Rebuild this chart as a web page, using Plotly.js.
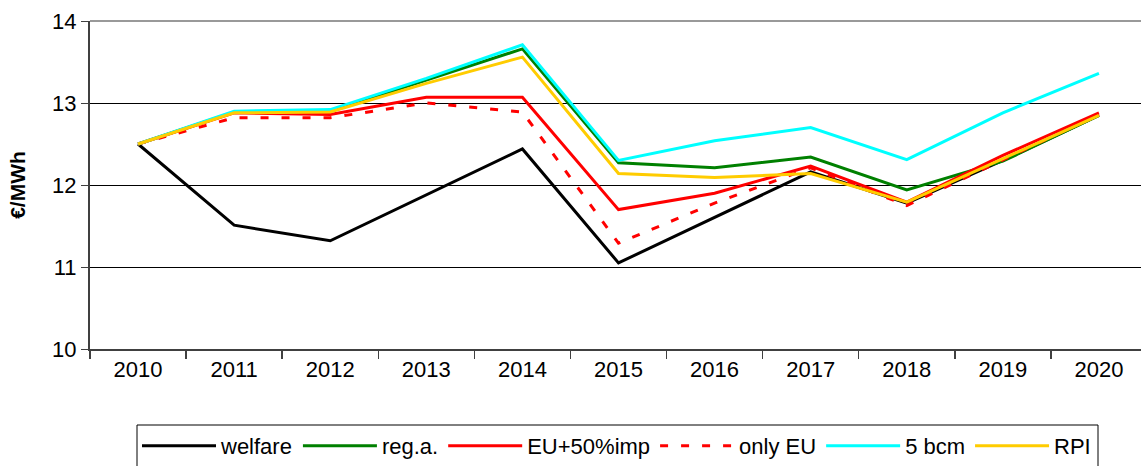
<!DOCTYPE html>
<html><head><meta charset="utf-8">
<script src="https://cdn.plot.ly/plotly-3.0.1.min.js"></script>
<style>html,body{margin:0;padding:0;overflow:hidden;background:#fff}</style>
</head><body><div id="chart"></div>
<script>
const years = ['2010','2011','2012','2013','2014','2015','2016','2017','2018','2019','2020'];
const welfare = [12.5, 11.51, 11.32, 11.88, 12.44, 11.05, 11.6, 12.16, 11.78, 12.3, 12.85];
const regA    = [12.5, 12.89, 12.9, 13.28, 13.66, 12.27, 12.21, 12.34, 11.94, 12.29, 12.85];
const eu50imp = [12.5, 12.88, 12.86, 13.07, 13.07, 11.7, 11.9, 12.23, 11.79, 12.36, 12.88];
const onlyEU  = [12.5, 12.82, 12.82, 13.0, 12.89, 11.29, 11.78, 12.21, 11.75, 12.3, 12.86];
const bcm5    = [12.5, 12.9, 12.92, 13.3, 13.71, 12.3, 12.54, 12.7, 12.31, 12.88, 13.36];
const rpi     = [12.5, 12.88, 12.89, 13.24, 13.56, 12.14, 12.09, 12.14, 11.79, 12.32, 12.85];

const series = [
  {name:'welfare', y:welfare, color:'#000000', dash:'solid'},
  {name:'reg.a.', y:regA, color:'#008000', dash:'solid'},
  {name:'EU+50%imp', y:eu50imp, color:'#FF0000', dash:'solid'},
  {name:'only EU', y:onlyEU, color:'#FF0000', dash:'8px,13px'},
  {name:'5 bcm', y:bcm5, color:'#00FFFF', dash:'solid'},
  {name:'RPI', y:rpi, color:'#FFCC00', dash:'solid'}
];
const traces = series.map(s => ({
  x: years, y: s.y, name: s.name, type:'scatter', mode:'lines',
  line:{color:s.color, width:3, dash:s.dash}
}));
const FF = 'Liberation Sans, Arial, sans-serif';
const W = 1160, H = 466;
const layout = {
  width:W, height:H,
  margin:{l:90, r:13, t:21, b:117},
  paper_bgcolor:'#fff', plot_bgcolor:'#fff',
  font:{family:FF, color:'#000', size:22},
  showlegend:true,
  legend:{orientation:'h', xref:'container', yref:'container', x:137/W, xanchor:'left', y:1-425/H, yanchor:'top',
    borderwidth:0, bgcolor:'rgba(0,0,0,0)', font:{family:FF, size:22, color:'#000'},
    itemwidth:74, tracegroupgap:0},
  xaxis:{type:'category', range:[-0.5,10.5], showgrid:false, showline:true, linecolor:'#404040', linewidth:2,
    ticks:'outside', tickson:'boundaries', ticklen:8, tickcolor:'#404040', tickwidth:1.5,
    tickfont:{size:22}, fixedrange:true},
  yaxis:{range:[10,14], dtick:1, showgrid:true, gridcolor:'#000', gridwidth:1, zeroline:false,
    showline:true, linecolor:'#404040', linewidth:2, ticks:'outside', ticklen:7, tickcolor:'#404040',
    tickfont:{size:22}, title:{text:'€/MWh', font:{size:21, family:FF, weight:'bold'}, standoff:21}},
  shapes:[
    {type:'line', xref:'paper', yref:'paper', x0:0, x1:1, y0:1, y1:1, line:{color:'#999', width:2}},
    {type:'rect', xref:'paper', yref:'paper', x0:(137-90)/1057, x1:(1098-90)/1057, y0:(349-425)/328, y1:(349-470)/328,
      line:{color:'#000', width:1}, fillcolor:'rgba(0,0,0,0)'}
  ]
};
Plotly.newPlot('chart', traces, layout, {displayModeBar:false, staticPlot:true});
</script></body></html>
